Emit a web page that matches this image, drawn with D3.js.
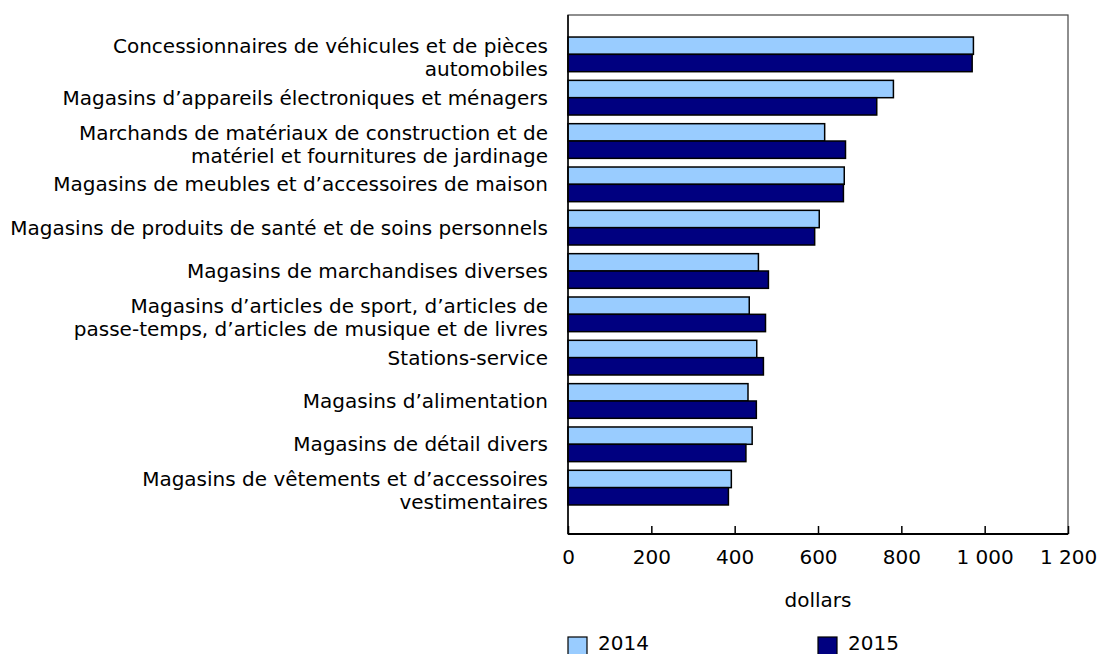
<!DOCTYPE html>
<style>
body {
  margin: 0;
  background: #fff;
  font-family: 'DejaVu Sans', Verdana, sans-serif;
}
.axis .domain {
  display: none;
}
</style>
<svg width="1098" height="654"></svg>
<script src="https://d3js.org/d3.v7.min.js"></script>
<script>
// categories, top to bottom (\n = line break in the label)
var categories = [
  "Concessionnaires de véhicules et de pièces\nautomobiles",
  "Magasins d’appareils électroniques et ménagers",
  "Marchands de matériaux de construction et de\nmatériel et fournitures de jardinage",
  "Magasins de meubles et d’accessoires de maison",
  "Magasins de produits de santé et de soins personnels",
  "Magasins de marchandises diverses",
  "Magasins d’articles de sport, d’articles de\npasse-temps, d’articles de musique et de livres",
  "Stations-service",
  "Magasins d’alimentation",
  "Magasins de détail divers",
  "Magasins de vêtements et d’accessoires\nvestimentaires"
];
var years = ["2014", "2015"];
var values2014 = [973, 781, 616, 663, 603, 457, 435, 453, 432, 442, 392];
var values2015 = [970, 741, 666, 661, 592, 481, 474, 469, 452, 427, 385];
var xTicks = [0, 200, 400, 600, 800, 1000, 1200];
var xTitle = "dollars";

var data = categories.map(function(c, i) {
  return {cat: c, "2014": values2014[i], "2015": values2015[i]};
});

var svg = d3.select("svg"),
    plotLeft = 568, plotRight = 1068, plotTop = 15, plotBottom = 534,
    fontSize = 20;

var x = d3.scaleLinear().domain([0, 1200]).range([plotLeft, plotRight]);

var y = d3.scaleBand()
    .domain(categories)
    .range([32.7, 509.3])
    .paddingInner(0.2)
    .paddingOuter(0.1);

var y1 = d3.scaleBand().domain(years).range([0, y.bandwidth()]);

var z = d3.scaleOrdinal().domain(years).range(["#99ccff", "#000080"]);

var fr = d3.formatLocale({decimal: ",", thousands: "\u00a0", grouping: [3], currency: ["", " $"]});

// frame
svg.append("rect")
    .attr("x", plotLeft)
    .attr("y", plotTop)
    .attr("width", plotRight - plotLeft)
    .attr("height", plotBottom - plotTop)
    .attr("fill", "none")
    .attr("stroke", "#444")
    .attr("stroke-width", 1.2);

// bars
svg.append("g")
  .selectAll("g")
  .data(data)
  .enter().append("g")
    .attr("transform", function(d) { return "translate(0," + y(d.cat) + ")"; })
  .selectAll("rect")
  .data(function(d) { return years.map(function(k) { return {key: k, value: d[k]}; }); })
  .enter().append("rect")
    .attr("x", x(0))
    .attr("y", function(d) { return y1(d.key); })
    .attr("width", function(d) { return x(d.value) - x(0); })
    .attr("height", y1.bandwidth())
    .attr("fill", function(d) { return z(d.key); })
    .attr("stroke", "#000")
    .attr("stroke-width", 1.5);

// x axis (ticks point up into the plot)
var xAxis = svg.append("g")
    .attr("class", "axis")
    .attr("transform", "translate(0," + plotBottom + ")")
    .call(d3.axisBottom(x).tickValues(xTicks).tickSizeInner(-8).tickSizeOuter(0).tickPadding(16)
      .tickFormat(fr.format(",")));
xAxis.selectAll("line").attr("stroke", "#000").attr("stroke-width", 1.5);
xAxis.selectAll("text")
    .attr("fill", "#000")
    .style("font-family", "'DejaVu Sans', Verdana, sans-serif")
    .style("font-size", fontSize + "px");

svg.append("line")
    .attr("x1", plotLeft).attr("x2", plotRight)
    .attr("y1", plotBottom).attr("y2", plotBottom)
    .attr("stroke", "#000").attr("stroke-width", 2);
svg.append("line")
    .attr("x1", plotLeft).attr("x2", plotLeft)
    .attr("y1", plotTop).attr("y2", plotBottom)
    .attr("stroke", "#000").attr("stroke-width", 1.5);

// category labels
var labels = svg.append("g")
    .attr("text-anchor", "end")
    .style("font-size", fontSize + "px")
  .selectAll("text")
  .data(categories)
  .enter().append("text")
    .attr("x", plotLeft - 20)
    .attr("y", function(d) { return y(d) + y.bandwidth() / 2; });

labels.each(function(d) {
  var lines = d.split("\n");
  var t = d3.select(this);
  lines.forEach(function(l, i) {
    var off = lines.length === 1 ? 0 : (i === 0 ? -8.5 : 14.5);
    t.append("tspan")
      .attr("x", plotLeft - 20)
      .attr("y", y(d) + y.bandwidth() / 2 + off)
      .attr("dy", "0.35em")
      .text(l);
  });
});

// axis title
svg.append("text")
    .attr("x", (plotLeft + plotRight) / 2)
    .attr("y", 607)
    .attr("text-anchor", "middle")
    .style("font-size", fontSize + "px")
    .text(xTitle);

// legend
var legend = svg.append("g")
  .selectAll("g")
  .data(years)
  .enter().append("g")
    .attr("transform", function(d, i) { return "translate(" + (568 + i * 250) + ",637)"; });

legend.append("rect")
    .attr("width", 19)
    .attr("height", 19)
    .attr("fill", z)
    .attr("stroke", "#000")
    .attr("stroke-width", 1.2);

legend.append("text")
    .attr("x", 30)
    .attr("y", 13)
    .style("font-size", fontSize + "px")
    .text(function(d) { return d; });
</script>
